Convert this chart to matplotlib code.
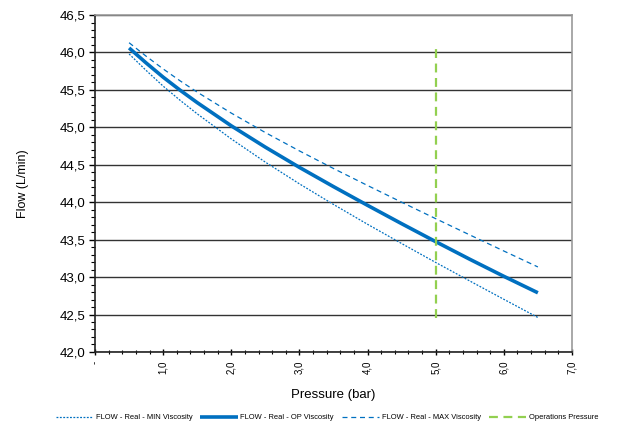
import matplotlib
matplotlib.use('Agg')
import matplotlib.pyplot as plt
from matplotlib.ticker import MultipleLocator, FuncFormatter

plt.rcParams['font.family'] = ['Liberation Sans', 'DejaVu Sans']

# pressure (bar) and flow (L/min)
pressure = [0.5, 0.75, 1.0, 1.25, 1.5, 2.0, 2.5, 3.0, 3.5, 4.0, 4.5, 5.0, 5.5, 6.0, 6.5]
flow_min = [45.98, 45.76, 45.55, 45.36, 45.18, 44.845, 44.535, 44.245, 43.97, 43.705, 43.448, 43.195, 42.948, 42.703, 42.46]
flow_op  = [46.06, 45.86, 45.67, 45.495, 45.33, 45.02, 44.735, 44.465, 44.208, 43.958, 43.713, 43.473, 43.238, 43.01, 42.79]
flow_max = [46.13, 45.95, 45.78, 45.62, 45.47, 45.19, 44.93, 44.685, 44.45, 44.223, 44.0, 43.78, 43.563, 43.348, 43.135]
op_pressure = [5.0, 5.0]
op_flow     = [42.45, 46.1]

BLUE  = '#0070C0'
GREEN = '#92D050'

def comma(v, pos):
    return f"{v:.1f}".replace('.', ',')

def xcomma(v, pos):
    return '-' if abs(v) < 1e-9 else f"{v:.1f}".replace('.', ',')

fig = plt.figure(figsize=(6.17, 4.23), dpi=100)
ax = fig.add_axes([0.154, 0.168, 0.773, 0.7965])

ax.plot(pressure, flow_min, color=BLUE, lw=0.9, dashes=(1.5, 1.2),
        label='FLOW - Real - MIN Viscosity', zorder=3)
ax.plot(pressure, flow_op, color=BLUE, lw=2.6, solid_capstyle='butt',
        label='FLOW - Real - OP Viscosity', zorder=4)
ax.plot(pressure, flow_max, color=BLUE, lw=0.9, dashes=(4, 3),
        label='FLOW - Real - MAX Viscosity', zorder=3)
ax.plot(op_pressure, op_flow, color=GREEN, lw=1.6, dashes=(4, 2.5),
        label='Operations Pressure', zorder=5)

ax.set_xlim(0, 7)
ax.set_ylim(42, 46.5)
ax.xaxis.set_major_locator(MultipleLocator(1))
ax.xaxis.set_minor_locator(MultipleLocator(0.2))
ax.yaxis.set_major_locator(MultipleLocator(0.5))
ax.yaxis.set_minor_locator(MultipleLocator(0.1))
ax.xaxis.set_major_formatter(FuncFormatter(xcomma))
ax.yaxis.set_major_formatter(FuncFormatter(comma))

ax.grid(True, axis='y', which='major', color='#333333', lw=1.0, zorder=1)
ax.tick_params(axis='y', which='major', direction='out', length=4, width=1, labelsize=9.5, pad=3)
ax.tick_params(axis='y', which='minor', direction='out', length=3, width=0.8)
ax.tick_params(axis='x', which='major', direction='inout', length=4, width=1,
               labelsize=7, labelrotation=90, pad=4)
ax.tick_params(axis='x', which='minor', direction='inout', length=3, width=0.8)

for s in ['left', 'bottom']:
    ax.spines[s].set_color('#222222')
    ax.spines[s].set_linewidth(1.2)
for s in ['top', 'right']:
    ax.spines[s].set_color('#999999')
    ax.spines[s].set_linewidth(1.2)

ax.set_ylabel('Flow (L/min)', fontsize=9, labelpad=22)
ax.set_xlabel('Pressure (bar)', fontsize=9.5, labelpad=11)

fig.legend(loc='lower center', bbox_to_anchor=(0.53, -0.012), ncol=4, frameon=False,
           fontsize=5.4, handlelength=5.0, columnspacing=1.1, handletextpad=0.3)

fig.savefig('out.png', dpi=100)
